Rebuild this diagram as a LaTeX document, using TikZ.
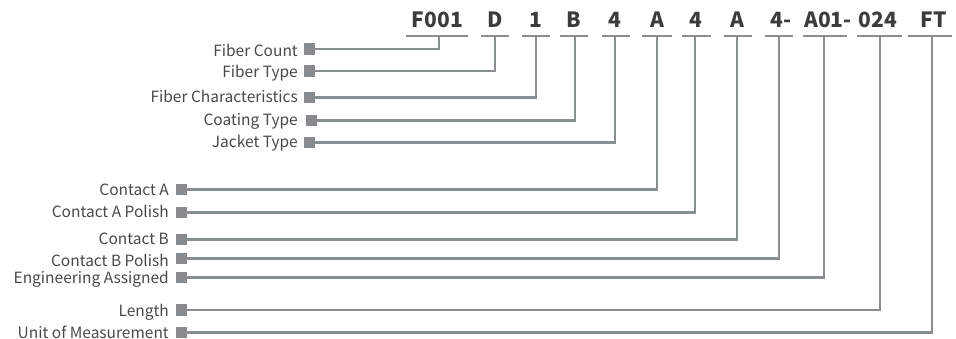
\documentclass[tikz,border=0pt]{standalone}
\usepackage{fontspec}
\setmainfont{Noto Sans CJK SC}
\definecolor{linegray}{RGB}{137,142,145}
\definecolor{sqgray}{RGB}{136,139,141}
\definecolor{codetext}{RGB}{60,60,60}
\definecolor{labtext}{RGB}{72,72,72}
\begin{document}
\begin{tikzpicture}[x=1pt,y=-1pt,
  code/.style={font=\fontsize{21}{21}\selectfont\bfseries, text=codetext, anchor=base, inner sep=0pt},
  barnode/.style={fill=linegray, inner sep=0pt, minimum height=2.6pt, draw=none},
  sq/.style={fill=sqgray, inner sep=0pt, minimum width=11pt, minimum height=11pt, draw=none},
  lab/.style={font=\fontsize{15.5}{15.5}\selectfont, text=labtext, anchor=base east, inner sep=0pt},
  conn/.style={draw=linegray, line width=2.6pt}
]
\useasboundingbox (0,0) rectangle (956,339);
% codes
\node[code] (cF) at (437.5,27.3) {F001};
\node[code] (cD) at (495,27.3) {D};
\node[code] (c1) at (536,27.3) {1};
\node[code] (cB) at (574,27.3) {B};
\node[code] (c4) at (615,27.3) {4};
\node[code] (cA) at (657,27.3) {A};
\node[code] (c4b) at (696,27.3) {4};
\node[code] (cAb) at (737,27.3) {A};
\node[code] (c4c) at (781,27.3) {4-};
\node[code] (cA01) at (828,27.3) {A01-};
\node[code] (c024) at (878,27.3) {024};
\node[code] (cFT) at (934,27.3) {FT};
% bars
\node[barnode, minimum width=62pt] (bF) at (437,36) {};
\node[barnode, minimum width=28pt] (bD) at (495,36) {};
\node[barnode, minimum width=28pt] (b1) at (536,36) {};
\node[barnode, minimum width=28pt] (bB) at (574,36) {};
\node[barnode, minimum width=28pt] (b4) at (616,36) {};
\node[barnode, minimum width=30pt] (bA) at (657,36) {};
\node[barnode, minimum width=29pt] (b4b) at (696.5,36) {};
\node[barnode, minimum width=28pt] (bAb) at (738,36) {};
\node[barnode, minimum width=28pt] (b4c) at (779,36) {};
\node[barnode, minimum width=44pt] (bA01) at (825,36) {};
\node[barnode, minimum width=45pt] (b024) at (879.5,36) {};
\node[barnode, minimum width=44pt] (bFT) at (930,36) {};
% verticals anchors
\coordinate (vF) at (439,36);
\coordinate (vD) at (495,36);
\coordinate (v1) at (536,36);
\coordinate (vB) at (575,36);
\coordinate (v4) at (615,36);
\coordinate (vA) at (657,36);
\coordinate (v4b) at (695,36);
\coordinate (vAb) at (737,36);
\coordinate (v4c) at (779,36);
\coordinate (vA01) at (824,36);
\coordinate (v024) at (880,36);
\coordinate (vFT) at (932,36);
% squares
\node[sq] (sFC) at (309.5,49) {};
\node[sq] (sFT) at (309.5,71) {};
\node[sq] (sFCh) at (309.5,97.5) {};
\node[sq] (sCT) at (311.5,120.5) {};
\node[sq] (sJT) at (309.5,142.5) {};
\node[sq] (sCA) at (181.5,189.5) {};
\node[sq] (sCAP) at (181.5,212.5) {};
\node[sq] (sCB) at (181.5,239.5) {};
\node[sq] (sCBP) at (181.5,258.5) {};
\node[sq] (sEA) at (181.5,277.5) {};
\node[sq] (sL) at (181.5,310) {};
\node[sq] (sU) at (181.5,332.5) {};
% labels
\node[lab] (lFC) at (298,56.5) {Fiber Count};
\node[lab] (lFT) at (298,77.5) {Fiber Type};
\node[lab] (lFCh) at (298,103) {Fiber Characteristics};
\node[lab] (lCT) at (298,126) {Coating Type};
\node[lab] (lJT) at (298,148) {Jacket Type};
\node[lab] (lCA) at (169,195.5) {Contact A};
\node[lab] (lCAP) at (169,218) {Contact A Polish};
\node[lab] (lCB) at (169,245) {Contact B};
\node[lab] (lCBP) at (169,266) {Contact B Polish};
\node[lab] (lEA) at (169,283.5) {Engineering Assigned};
\node[lab] (lL) at (169,316) {Length};
\node[lab] (lU) at (169,338) {Unit of Measurement};
% connectors
\draw[conn] (vF) |- (sFC.center);
\draw[conn] (vD) |- (sFT.center);
\draw[conn] (v1) |- (sFCh.center);
\draw[conn] (vB) |- (sCT.center);
\draw[conn] (v4) |- (sJT.center);
\draw[conn] (vA) |- (sCA.center);
\draw[conn] (v4b) |- (sCAP.center);
\draw[conn] (vAb) |- (sCB.center);
\draw[conn] (v4c) |- (sCBP.center);
\draw[conn] (vA01) |- (sEA.center);
\draw[conn] (v024) |- (sL.center);
\draw[conn] (vFT) |- (sU.center);
% redraw squares on top
\foreach \s in {sFC,sFT,sFCh,sCT,sJT,sCA,sCAP,sCB,sCBP,sEA,sL,sU}
  \fill[sqgray] (\s.south west) rectangle (\s.north east);
\end{tikzpicture}
\end{document}
